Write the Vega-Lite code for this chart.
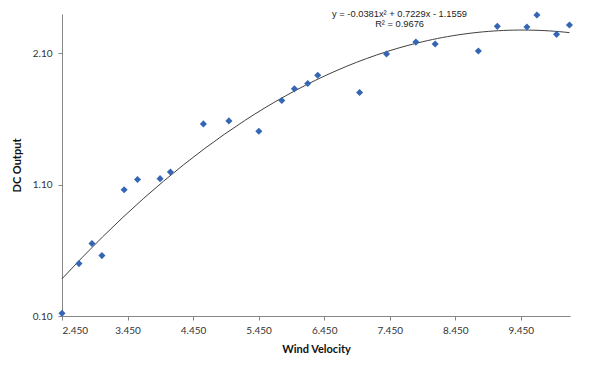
{
  "$schema": "https://vega.github.io/schema/vega-lite/v6.json",
  "autosize": "none",
  "width": 508,
  "height": 302,
  "padding": {"left": 62, "top": 14, "right": 30, "bottom": 54},
  "background": "white",
  "config": {
    "view": {"stroke": null},
    "font": "Lato",
    "axis": {
      "grid": false,
      "domainColor": "#868686",
      "tickColor": "#868686",
      "tickSize": 4,
      "labelFont": "Lato",
      "labelFontSize": 10,
      "labelColor": "#333333",
      "titleFont": "Lato",
      "titleFontSize": 11,
      "titleFontWeight": "bold",
      "titleColor": "#111111"
    }
  },
  "datasets": {
    "pts": [
      {"v": 2.45, "dc": 0.12},
      {"v": 2.709, "dc": 0.499},
      {"v": 2.907, "dc": 0.652},
      {"v": 3.059, "dc": 0.56},
      {"v": 3.398, "dc": 1.062},
      {"v": 3.602, "dc": 1.14},
      {"v": 3.946, "dc": 1.146},
      {"v": 4.104, "dc": 1.197},
      {"v": 4.607, "dc": 1.563},
      {"v": 4.996, "dc": 1.586},
      {"v": 5.453, "dc": 1.507},
      {"v": 5.803, "dc": 1.741},
      {"v": 5.996, "dc": 1.83},
      {"v": 6.199, "dc": 1.871},
      {"v": 6.351, "dc": 1.934},
      {"v": 6.99, "dc": 1.802},
      {"v": 7.401, "dc": 2.095},
      {"v": 7.849, "dc": 2.186},
      {"v": 8.143, "dc": 2.171},
      {"v": 8.802, "dc": 2.118},
      {"v": 9.091, "dc": 2.306},
      {"v": 9.543, "dc": 2.301},
      {"v": 9.695, "dc": 2.392},
      {"v": 9.995, "dc": 2.245},
      {"v": 10.192, "dc": 2.316}
    ],
    "notes": [
      {"v": 7.6, "dc": 2.4, "label": "y = -0.0381x²  + 0.7229x  - 1.1559"},
      {"v": 7.6, "dc": 2.324, "label": "R² = 0.9676"}
    ]
  },
  "layer": [
    {
      "data": {"name": "pts"},
      "transform": [{"regression": "dc", "on": "v", "method": "poly", "order": 2}],
      "mark": {"type": "line", "color": "#404040", "strokeWidth": 1, "clip": false},
      "encoding": {
        "x": {
          "field": "v", "type": "quantitative",
          "scale": {"domain": [2.45, 10.2], "nice": false, "zero": false},
          "axis": {"values": [2.45, 3.45, 4.45, 5.45, 6.45, 7.45, 8.45, 9.45], "format": ".3f", "title": "Wind Velocity", "labelPadding": 5, "titlePadding": 8}
        },
        "y": {
          "field": "dc", "type": "quantitative",
          "scale": {"domain": [0.1, 2.4], "nice": false, "zero": false},
          "axis": {"values": [0.1, 1.1, 2.1], "format": ".2f", "title": "DC Output", "labelPadding": 6, "titlePadding": 10}
        }
      }
    },
    {
      "data": {"name": "pts"},
      "mark": {"type": "point", "shape": "diamond", "filled": true, "size": 50, "color": "#3566B4", "opacity": 1, "clip": false},
      "encoding": {
        "x": {"field": "v", "type": "quantitative"},
        "y": {"field": "dc", "type": "quantitative"}
      }
    },
    {
      "data": {"name": "notes"},
      "mark": {"type": "text", "font": "Liberation Sans", "fontSize": 9.3, "color": "#222222", "align": "center", "baseline": "middle"},
      "encoding": {
        "x": {"field": "v", "type": "quantitative"},
        "y": {"field": "dc", "type": "quantitative"},
        "text": {"field": "label"}
      }
    }
  ]
}
